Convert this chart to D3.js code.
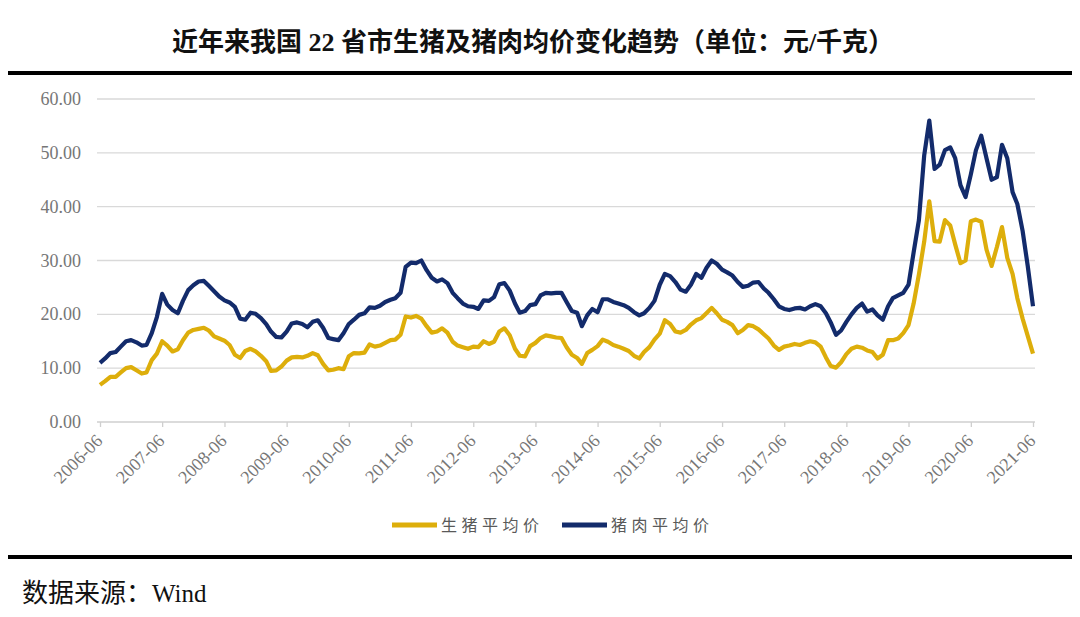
<!DOCTYPE html>
<html><head><meta charset="utf-8">
<script src="https://cdn.jsdelivr.net/npm/d3@7"></script>
<style>
html,body{margin:0;padding:0;background:#fff;}
svg{display:block;}
</style></head>
<body>
<svg id="c" width="1080" height="617"></svg>
<script>
// ---- data (monthly, 2006-06 .. 2021-06), 元/千克 ----
const startMonth = "2006-06";
const xTickLabels = ["2006-06","2007-06","2008-06","2009-06","2010-06","2011-06","2012-06","2013-06","2014-06","2015-06","2016-06","2017-06","2018-06","2019-06","2020-06","2021-06"];
const yTicks = [0,10,20,30,40,50,60];
const seriesNames = ["生猪平均价","猪肉平均价"];
const hogPrice = [
 6.9,7.6,8.4,8.4,9.2,10.0,10.2,9.6,9.0,9.2,11.5,12.7,15.0,14.2,13.1,13.5,15.2,16.6,17.1,17.3,
 17.5,17.0,15.9,15.5,15.1,14.3,12.5,11.9,13.2,13.6,13.1,12.3,11.3,9.5,9.6,10.3,11.4,12.0,12.1,12.0,
 12.3,12.8,12.4,10.8,9.6,9.7,10.0,9.8,12.2,12.8,12.75,12.9,14.4,14.0,14.2,14.7,15.2,15.3,16.2,19.6,
 19.4,19.7,19.2,17.8,16.6,16.8,17.4,16.6,14.9,14.2,13.9,13.6,14.0,13.9,15.0,14.5,14.9,16.8,17.4,16.1,
 13.6,12.3,12.2,14.1,14.7,15.6,16.1,15.9,15.7,15.6,13.9,12.5,11.9,10.8,12.8,13.4,14.1,15.3,14.9,14.3,
 14.0,13.6,13.2,12.3,11.8,13.0,13.9,15.3,16.4,18.9,18.2,16.8,16.6,17.1,18.1,18.9,19.3,20.2,21.2,20.2,
 19.0,18.6,18.0,16.5,17.1,18.0,17.8,17.2,16.3,15.5,14.2,13.4,14.0,14.2,14.5,14.3,14.7,15.0,14.8,14.0,
 12.0,10.4,10.1,11.1,12.6,13.6,14.0,13.8,13.3,13.0,11.8,12.5,15.2,15.2,15.5,16.5,18.0,22.0,27.4,33.5,
 41.0,33.6,33.5,37.5,36.5,33.0,29.5,30.0,37.3,37.6,37.2,32.0,29.0,32.5,36.2,30.5,27.5,23.0,19.2,16.0,
 12.7];
const porkPrice = [
 11.0,11.8,12.8,13.0,14.0,15.0,15.2,14.8,14.2,14.3,16.5,19.5,23.8,21.8,20.8,20.2,22.5,24.5,25.4,26.1,
 26.2,25.3,24.3,23.3,22.6,22.2,21.4,19.2,19.0,20.3,20.1,19.3,18.2,16.8,15.8,15.7,16.8,18.3,18.5,18.2,
 17.6,18.6,18.9,17.5,15.6,15.4,15.2,16.5,18.2,19.0,19.9,20.2,21.3,21.2,21.6,22.3,22.7,23.0,24.0,28.8,
 29.6,29.5,30.0,28.2,26.8,26.1,26.5,25.8,24.0,23.0,22.0,21.5,21.4,21.0,22.6,22.5,23.2,25.6,25.8,24.4,
 22.0,20.3,20.6,21.7,21.9,23.5,24.0,23.9,24.0,24.0,22.3,20.6,20.3,17.8,19.8,21.0,20.4,22.8,22.8,22.3,
 22.0,21.7,21.2,20.4,19.8,20.2,21.2,22.5,25.5,27.5,27.1,26.0,24.6,24.2,25.5,27.5,26.8,28.6,30.0,29.4,
 28.3,27.8,27.2,26.0,25.1,25.3,25.9,26.0,24.8,24.0,22.8,21.5,21.0,20.8,21.1,21.2,20.9,21.5,21.9,21.5,
 20.2,18.5,16.2,17.0,18.6,20.0,21.2,22.0,20.5,20.9,19.8,19.0,21.5,23.0,23.5,24.0,25.5,31.5,37.5,49.5,
 56.0,47.0,47.8,50.5,51.0,49.0,44.0,41.8,46.0,50.5,53.2,49.0,45.0,45.5,51.5,49.0,42.7,40.5,35.5,29.0,
 21.5];
const colors = ["#DDAE0B","#132B6B"];

// ---- drawing ----
const svg = d3.select("#c");
const parse = d3.timeParse("%Y-%m");
const t0 = parse(startMonth);
const months = d3.range(hogPrice.length).map(i => d3.timeMonth.offset(t0, i));
const tickDates = xTickLabels.map(parse);

const x = d3.scaleTime().domain([t0, months[months.length-1]]).range([100, 1033]);
const y = d3.scaleLinear().domain([0, 60]).range([422, 99]);

const serif = "'Liberation Serif','Times New Roman','Noto Sans CJK SC',serif";
const cjk = "'Liberation Serif','Noto Sans CJK SC',sans-serif";

// title
svg.append("text").attr("x", 533).attr("y", 51).attr("text-anchor","middle")
  .attr("font-family", cjk).attr("font-weight", 700).attr("font-size", 26).attr("fill","#111")
  .text("近年来我国 22 省市生猪及猪肉均价变化趋势（单位：元/千克）");

// rules
svg.append("rect").attr("x",8).attr("y",71).attr("width",1064).attr("height",4).attr("fill","#000");
svg.append("rect").attr("x",8).attr("y",555).attr("width",1064).attr("height",4).attr("fill","#000");

// grid
const g = svg.append("g");
g.selectAll("line.grid").data(yTicks.filter(d=>d>0)).enter().append("line")
  .attr("x1", 97).attr("x2", 1035).attr("y1", d=>y(d)).attr("y2", d=>y(d))
  .attr("stroke","#d9d9d9").attr("stroke-width",1.3);

// y labels
g.selectAll("text.yl").data(yTicks).enter().append("text")
  .attr("x", 81).attr("y", d=>y(d)+6).attr("text-anchor","end")
  .attr("font-family", serif).attr("font-size", 18).attr("fill","#767676")
  .text(d=>d3.format(".2f")(d));

// x axis
const xAxis = d3.axisBottom(x).tickValues(tickDates).tickFormat((d,i)=>xTickLabels[i]).tickSize(5).tickSizeOuter(0);
const ax = svg.append("g").attr("transform","translate(0,422)").call(xAxis);
ax.select(".domain").attr("stroke","#cfcfcf").attr("stroke-width",1.3).attr("d","M97,0H1035");
ax.selectAll(".tick line").attr("stroke","#cfcfcf").attr("stroke-width",1.3);
ax.selectAll(".tick text")
  .attr("font-family", serif).attr("font-size", 18).attr("fill","#767676")
  .attr("text-anchor","end").attr("dy", null).attr("y", 0)
  .attr("transform","translate(3,20) rotate(-45)");

// lines
const line = d3.line().x((d,i)=>x(months[i])).y(d=>y(d)).curve(d3.curveLinear);
[hogPrice, porkPrice].forEach((s,k)=>{
  svg.append("path").datum(s).attr("d", line).attr("fill","none")
    .attr("stroke", colors[k]).attr("stroke-width", 4.2).attr("stroke-linejoin","round");
});

// legend
const leg = [{x:392, tx:441},{x:562, tx:611}];
seriesNames.forEach((n,i)=>{
  svg.append("line").attr("x1",leg[i].x).attr("x2",leg[i].x+45).attr("y1",525).attr("y2",525)
    .attr("stroke",colors[i]).attr("stroke-width",5);
  svg.append("text").attr("x",leg[i].tx).attr("y",531)
    .attr("font-family","'Noto Sans CJK SC',sans-serif").attr("font-size",16)
    .attr("letter-spacing",4.5).attr("fill","#595959").text(n);
});

// source
const src = svg.append("text").attr("x",22).attr("y",602).attr("fill","#111");
src.append("tspan").attr("font-family", "'Noto Sans CJK SC',sans-serif").attr("font-size",26).text("数据来源：");
src.append("tspan").attr("font-family", serif).attr("font-size",25).text("Wind");
</script>
</body></html>
